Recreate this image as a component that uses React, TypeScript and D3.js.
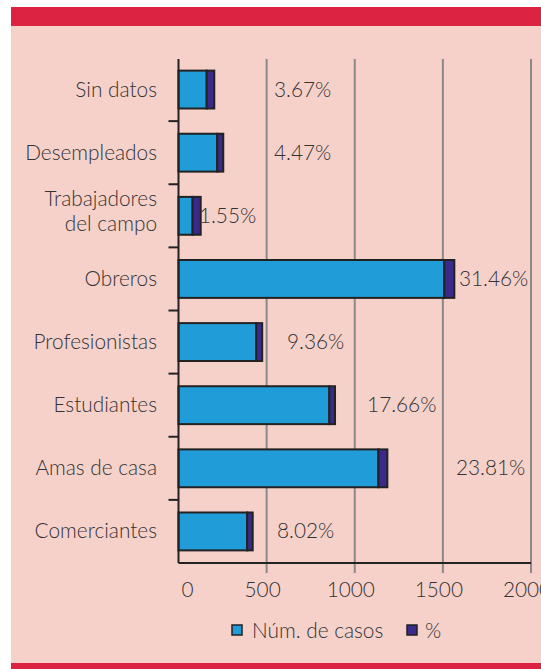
import React from "react";
import * as d3 from "d3";

const categories = [
  "Sin datos",
  "Desempleados",
  "Trabajadores del campo",
  "Obreros",
  "Profesionistas",
  "Estudiantes",
  "Amas de casa",
  "Comerciantes",
];
const casos = [160, 220, 80, 1508, 441, 856, 1134, 390];
const pctBar = [43, 34, 46, 57, 34, 32, 51, 31];
const pctLabels = ["3.67%", "4.47%", "1.55%", "31.46%", "9.36%", "17.66%", "23.81%", "8.02%"];
const pctLabelAt = [542, 542, 116, 1591, 616, 1070, 1574, 559];
const xTicks = [0, 500, 1000, 1500, 2000];
const legendNames = ["Núm. de casos", "%"];

const W = 541;
const H = 669;
const RED = "#dc2342";
const PINK = "#f6d1ca";
const BLUE = "#209cd8";
const PURPLE = "#3b2a8c";
const DARK = "#222";
const GRID = "#8a8a8a";
const TEXT = "#333";
const FONT = "Lato, 'Open Sans', sans-serif";
const FS = 20.8;
const FW = 300;

export default function App() {
  const x = d3.scaleLinear().domain([0, 2000]).range([178.5, 531]);
  const y = d3
    .scaleBand<string>()
    .domain(categories)
    .range([58, 563])
    .paddingInner(0.4)
    .paddingOuter(0.2);
  const step = y.step();

  return (
    <div style={{ position: "absolute", left: 0, top: 0 }}>
      <svg width={W} height={H} style={{ display: "block" }}>
        <rect x={0} y={0} width={W} height={H} fill="#fff" />
        <rect x={11} y={26} width={W - 11} height={637} fill={PINK} />
        <rect x={11} y={7} width={W - 11} height={19} fill={RED} />
        <rect x={11} y={663} width={W - 11} height={6} fill={RED} />

        {/* grid lines */}
        {xTicks.slice(1).map((t) => (
          <line key={t} x1={x(t)} x2={x(t)} y1={59} y2={573} stroke={GRID} strokeWidth={2} />
        ))}

        {/* bars */}
        {categories.map((c, i) => {
          const by = y(c) as number;
          const bh = y.bandwidth();
          return (
            <g key={c}>
              <rect x={x(0)} y={by} width={x(casos[i]) - x(0)} height={bh} fill={BLUE} stroke={DARK} strokeWidth={2} />
              <rect x={x(casos[i])} y={by} width={x(casos[i] + pctBar[i]) - x(casos[i])} height={bh} fill={PURPLE} stroke={DARK} strokeWidth={2} />
            </g>
          );
        })}

        {/* axes */}
        <line x1={x(0)} x2={x(0)} y1={59} y2={563} stroke={DARK} strokeWidth={2} />
        <line x1={x(0)} x2={x(2000)} y1={563} y2={563} stroke={DARK} strokeWidth={2} />
        {categories.slice(1).map((c) => {
          const yy = (y(c) as number) - (step - y.bandwidth()) / 2;
          return <line key={c} x1={x(0) - 10} x2={x(0)} y1={yy} y2={yy} stroke={DARK} strokeWidth={2} />;
        })}

        {/* x tick labels */}
        {xTicks.map((t) => (
          <text key={t} x={x(t) + (t === 0 ? 9 : -4)} y={597} textAnchor="middle" fontFamily={FONT} fontWeight={FW} fontSize={FS} fill={TEXT}>
            {t}
          </text>
        ))}

        {/* category labels */}
        {categories.map((c) => {
          const cy = (y(c) as number) + y.bandwidth() / 2;
          const words = c === "Trabajadores del campo" ? ["Trabajadores", "del campo"] : [c];
          const lh = 25;
          return (
            <text key={c} textAnchor="end" fontFamily={FONT} fontWeight={FW} fontSize={FS} fill={TEXT}>
              {words.map((w, j) => (
                <tspan key={j} x={157} y={cy + 7 + (j - (words.length - 1) / 2) * lh - (words.length > 1 ? 4 : 0)}>
                  {w}
                </tspan>
              ))}
            </text>
          );
        })}

        {/* value labels */}
        {categories.map((c, i) => (
          <text key={c} x={x(pctLabelAt[i])} y={(y(c) as number) + y.bandwidth() / 2 + 7} fontFamily={FONT} fontWeight={FW} fontSize={FS} fill={TEXT}>
            {pctLabels[i]}
          </text>
        ))}

        {/* legend */}
        <rect x={232} y={625} width={10} height={10} fill={BLUE} stroke={DARK} strokeWidth={1.5} />
        <text x={252} y={638} fontFamily={FONT} fontWeight={FW} fontSize={FS} fill={TEXT}>{legendNames[0]}</text>
        <rect x={407} y={625} width={10} height={10} fill={PURPLE} stroke={DARK} strokeWidth={1.5} />
        <text x={425} y={638} fontFamily={FONT} fontWeight={FW} fontSize={FS} fill={TEXT}>{legendNames[1]}</text>
      </svg>
    </div>
  );
}
